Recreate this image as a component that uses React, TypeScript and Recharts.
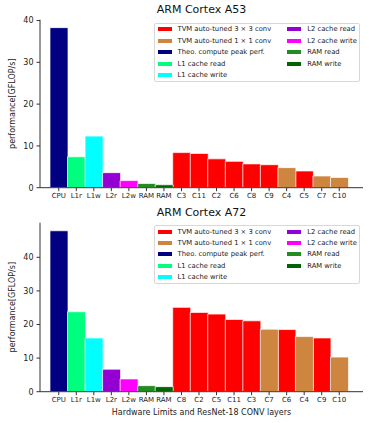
import { BarChart, Bar, XAxis, YAxis } from 'recharts';

// bar kinds, in legend order
const kinds = ['c3', 'c1', 'cpu', 'l1r', 'l1w', 'l2r', 'l2w', 'ramr', 'ramw'];
const kindNames = [
  'TVM auto-tuned 3 × 3 conv',
  'TVM auto-tuned 1 × 1 conv',
  'Theo. compute peak perf.',
  'L1 cache read',
  'L1 cache write',
  'L2 cache read',
  'L2 cache write',
  'RAM read',
  'RAM write',
];
const kindColors = ['#ff0000', '#cd853f', '#000080', '#00ff7f', '#00ffff', '#9400d3', '#ff00ff', '#228b22', '#006400'];

const hwLabels = ['CPU', 'L1r', 'L1w', 'L2r', 'L2w', 'RAM', 'RAM'];
const hwKinds = ['cpu', 'l1r', 'l1w', 'l2r', 'l2w', 'ramr', 'ramw'];

const a53Hw = [38.3, 7.4, 12.35, 3.6, 1.7, 1.0, 0.7];
const a53Layers = ['C3', 'C11', 'C2', 'C6', 'C8', 'C9', 'C4', 'C5', 'C7', 'C10'];
const a53LayerVals = [8.4, 8.2, 6.9, 6.3, 5.7, 5.5, 4.8, 4.0, 2.8, 2.45];
const a53LayerKinds = ['c3', 'c3', 'c3', 'c3', 'c3', 'c3', 'c1', 'c3', 'c1', 'c1'];

const a72Hw = [47.9, 23.8, 16.0, 6.7, 3.8, 1.8, 1.5];
const a72Layers = ['C8', 'C2', 'C5', 'C11', 'C3', 'C7', 'C6', 'C4', 'C9', 'C10'];
const a72LayerVals = [25.1, 23.6, 23.1, 21.5, 21.1, 18.6, 18.5, 16.4, 16.0, 10.3];
const a72LayerKinds = ['c3', 'c3', 'c3', 'c3', 'c3', 'c1', 'c3', 'c1', 'c3', 'c1'];

const yTicks = [0, 10, 20, 30, 40];

function buildRows(labels: string[], vals: number[], ks: string[]) {
  return labels.map((label, i) => {
    const row: Record<string, any> = { id: i, label };
    row[ks[i]] = vals[i];
    return row;
  });
}

const FONT = '"DejaVu Sans", sans-serif';
const AX = '#333';

const LegendBox = ({ top }: { top: number }) => {
  const renderItem = (i: number) => (
    <div key={kinds[i]} style={{ display: 'flex', alignItems: 'center', height: 11.4, whiteSpace: 'nowrap' }}>
      <div style={{ width: 14, height: 4, background: kindColors[i], marginRight: 6 }} />
      <span>{kindNames[i]}</span>
    </div>
  );
  return (
    <div
      style={{
        position: 'absolute',
        left: 154,
        top,
        width: 206,
        height: 59,
        border: '1px solid #d8d8d8',
        borderRadius: 2,
        background: '#fff',
        fontFamily: FONT,
        fontSize: 6.8,
        color: '#222',
        display: 'flex',
        padding: '0 0 0 2.5px',
        boxSizing: 'border-box',
      }}
    >
      <div style={{ width: 129.7 }}>{[0, 1, 2, 3, 4].map(renderItem)}</div>
      <div>{[5, 6, 7, 8].map(renderItem)}</div>
    </div>
  );
};

interface PanelProps {
  title: string;
  rows: any[];
  height: number;
  top: number;
  yMax: number;
  xHeight: number;
  xLabel?: string;
  legendTop: number;
}

const Panel = ({ title, rows, height, top, yMax, xHeight, xLabel, legendTop }: PanelProps) => (
  <div style={{ position: 'relative', width: 369, height }}>
    <div
      style={{
        position: 'absolute',
        left: 40,
        width: 323,
        top: top - 17,
        textAlign: 'center',
        fontFamily: FONT,
        fontSize: 11,
        color: '#111',
        lineHeight: '14px',
      }}
    >
      {title}
    </div>
    <BarChart
      width={369}
      height={height}
      data={rows}
      margin={{ top, right: 6, left: 0, bottom: 0 }}
      barCategoryGap={0}
      barGap={0}
    >
      <XAxis
        dataKey="id"
        tickFormatter={(v: number) => rows[v]?.label}
        padding={{ left: 10, right: 15 }}
        interval={0}
        tickSize={3.5}
        tickMargin={2}
        height={xHeight}
        tick={{ fontSize: 7, fill: '#222', fontFamily: FONT }}
        stroke={AX}
        tickLine={{ stroke: AX }}
        label={
          xLabel
            ? { value: xLabel, position: 'insideBottom', offset: 8, style: { fontSize: 8, fill: '#222', fontFamily: FONT } }
            : undefined
        }
      />
      <XAxis xAxisId="top" orientation="top" height={0} tick={false} tickLine={false} stroke={AX} dataKey="id" />
      <YAxis
        width={40}
        domain={[0, yMax]}
        ticks={yTicks}
        allowDataOverflow
        tickSize={3.5}
        tickMargin={3}
        tick={{ fontSize: 8, fill: '#222', fontFamily: FONT }}
        stroke={AX}
        tickLine={{ stroke: AX }}
        label={{
          value: 'performance[GFLOP/s]',
          angle: -90,
          position: 'insideLeft',
          offset: 12,
          style: { textAnchor: 'middle', fontSize: 8, fill: '#222', fontFamily: FONT },
        }}
      />
      <YAxis yAxisId="r" orientation="right" width={0} tick={false} tickLine={false} stroke={AX} domain={[0, yMax]} />
      {kinds.map((k, i) => (
        <Bar
          key={k}
          dataKey={k}
          name={kindNames[i]}
          stackId="s"
          fill={kindColors[i]}
          stroke="#ffffff"
          strokeWidth={0.7}
          isAnimationActive={false}
        />
      ))}
    </BarChart>
    <LegendBox top={legendTop} />
  </div>
);

const a53Rows = buildRows(
  [...hwLabels, ...a53Layers],
  [...a53Hw, ...a53LayerVals],
  [...hwKinds, ...a53LayerKinds]
);
const a72Rows = buildRows(
  [...hwLabels, ...a72Layers],
  [...a72Hw, ...a72LayerVals],
  [...hwKinds, ...a72LayerKinds]
);

export default function App() {
  return (
    <div style={{ position: 'absolute', left: 0, top: 0, width: 369, height: 423, background: '#fff' }}>
      <Panel title="ARM Cortex A53" rows={a53Rows} height={210} top={19.7} yMax={40.2} xHeight={22.3} legendTop={22.7} />
      <Panel
        title="ARM Cortex A72"
        rows={a72Rows}
        height={213}
        top={12.7}
        yMax={50.3}
        xHeight={31.3}
        xLabel="Hardware Limits and ResNet-18 CONV layers"
        legendTop={15}
      />
    </div>
  );
}
